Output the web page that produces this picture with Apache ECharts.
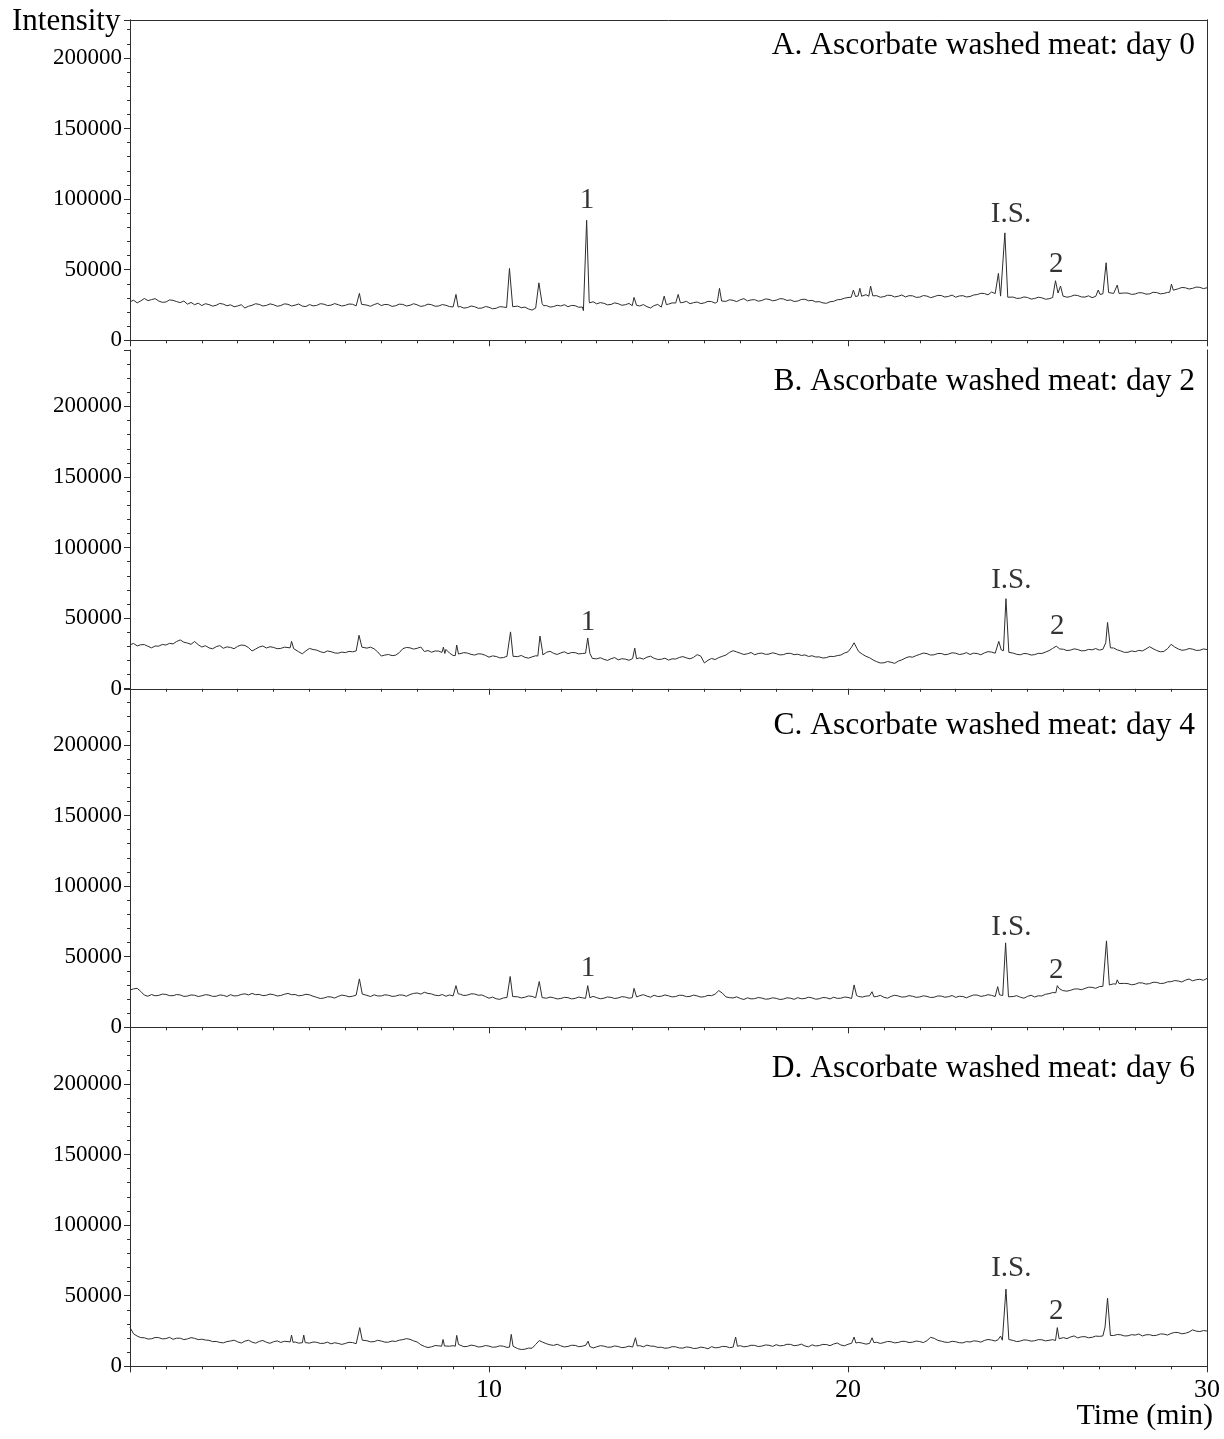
<!DOCTYPE html>
<html>
<head>
<meta charset="utf-8">
<title>Ascorbate washed meat chromatograms</title>
<script src="https://cdn.jsdelivr.net/npm/echarts@6/dist/echarts.min.js"></script>
<style>
  html, body { margin: 0; padding: 0; background: #fff; }
  #chart { width: 1224px; height: 1439px; }
</style>
</head>
<body>
<div id="chart"></div>
<script>
// baseline read every 0.1 min, 0 .. 30 min (20 values per row = 2 min)
const baseStep = 0.1;

const baseA = [
  27300, 28400, 26500, 27900, 29600, 28100, 28800, 29500, 27800, 26900, 27100, 28600, 28300, 27400, 26700, 27800, 25600, 26800, 25200, 26300,
  24600, 25900, 25300, 24200, 24800, 26100, 25600, 24500, 25100, 23800, 24300, 25200, 22900, 24100, 24800, 25900, 25400, 24300, 24700, 25800,
  25200, 24100, 24600, 25800, 25500, 24300, 24900, 25700, 24200, 23900, 25300, 24400, 24700, 25900, 25600, 24600, 24900, 26000, 25200, 24300,
  24800, 25700, 25500, 24400, 25000, 26000, 24900, 24100, 25300, 26200, 24600, 25400, 25200, 24000, 24500, 25600, 25400, 24300, 24800, 25900,
  25100, 24000, 24500, 25600, 25200, 24100, 24300, 25300, 24800, 23900, 23600, 24700, 23900, 22800, 23200, 24300, 23800, 22700, 22800, 23900,
  23400, 22300, 22700, 23800, 23600, 22600, 23900, 24900, 24200, 23100, 23500, 22200, 21400, 22800, 24000, 25000, 24600, 23500, 23900, 24800,
  24300, 25200, 23800, 24700, 24500, 23400, 23600, 24600, 26500, 27300, 25800, 26700, 26200, 25100, 25400, 26500, 25900, 24800, 25200, 26100,
  25000, 24000, 24300, 25300, 23800, 22900, 24600, 25400, 23500, 24400, 25600, 26500, 26400, 25300, 26800, 27600, 25900, 26700, 27100, 26000,
  26500, 27600, 27400, 26300, 26800, 27900, 27600, 28700, 28300, 27400, 28700, 29500, 27900, 28600, 28800, 27700, 28200, 29300, 29000, 28000,
  28400, 29500, 29300, 28200, 28600, 27500, 27800, 28900, 29100, 28000, 28300, 27200, 27400, 26500, 26200, 27300, 27600, 28700, 28900, 29800,
  30300, 31200, 31000, 30400, 31500, 32300, 30800, 31700, 31600, 30500, 30900, 31900, 31800, 30700, 31200, 32100, 30700, 31600, 31500, 30400,
  30600, 31700, 31300, 30200, 30900, 31800, 31700, 30600, 31100, 32000, 30500, 31400, 31600, 30700, 31000, 32100, 32400, 33300, 33100, 32200,
  34200, 33100, 33500, 33300, 33300, 31500, 30600, 29700, 29800, 30700, 30300, 29200, 29600, 30500, 30100, 29100, 29400, 30300, 30200, 31200,
  31400, 30500, 31000, 32000, 31700, 30700, 30600, 31500, 30200, 31100, 31800, 32900, 32800, 33200, 33200, 32300, 32600, 33500, 33400, 32500,
  32800, 33700, 33600, 32700, 32900, 34000, 33800, 32900, 33200, 33900, 34100, 36800, 36500, 37400, 37200, 36300, 36800, 37700, 37500, 36600,
  37200
];
const baseB = [
  31200, 32100, 30400, 31200, 31300, 30100, 29000, 30300, 30200, 31400, 31000, 32200, 31800, 33500, 34600, 33000, 32400, 31500, 33500, 31200,
  29600, 30500, 29000, 28300, 29800, 30600, 28700, 29700, 29300, 28400, 30100, 31000, 30700, 29200, 26800, 28200, 29600, 30300, 28900, 29800,
  29300, 28400, 28600, 29500, 29200, 30000, 28000, 26200, 24800, 26900, 28600, 27800, 27400, 26300, 25600, 26800, 26300, 25400, 25200, 26000,
  25600, 26500, 26200, 26800, 30000, 29200, 28800, 29500, 28300, 26100, 23200, 23900, 24300, 23500, 23800, 25600, 28400, 29300, 29000, 28100,
  28700, 29600, 26400, 27100, 25900, 26800, 26700, 25900, 27900, 25300, 23600, 24700, 24700, 25600, 25300, 24400, 23900, 24800, 24600, 23700,
  22400, 23300, 22900, 21900, 22100, 23000, 22500, 22000, 22800, 23600, 22300, 21700, 22600, 23400, 23000, 24000, 25800, 26600, 25100, 24300,
  25400, 26200, 24900, 25700, 25600, 24700, 25000, 25800, 24300, 22000, 21200, 22000, 20900, 20100, 21300, 22100, 20500, 21300, 21000, 20200,
  21400, 22300, 21900, 21000, 22400, 23100, 21600, 20800, 20900, 21700, 20300, 21200, 21100, 22200, 22800, 21900, 21200, 22300, 24200, 23100,
  18300, 20200, 21500, 20700, 22100, 23000, 23900, 25800, 27000, 26100, 25200, 24300, 24800, 25700, 24100, 25000, 25300, 24400, 24600, 25500,
  24900, 24000, 24200, 25100, 25100, 24200, 24500, 23600, 24000, 22900, 23400, 22500, 22600, 21800, 22100, 23000, 22800, 23500, 23900, 25300,
  26200, 27000, 30000, 26300, 24500, 23000, 22000, 20400, 19200, 18300, 18400, 19300, 18800, 18000, 19600, 20500, 21800, 22700, 22400, 23500,
  24400, 25300, 24900, 23900, 24100, 25000, 25000, 24100, 24600, 25500, 25200, 24300, 24700, 25600, 24300, 25200, 25000, 24100, 25400, 26300,
  26000, 25200, 30000, 28000, 30000, 26100, 25300, 24400, 24100, 25000, 24800, 23900, 24200, 25100, 25000, 26000, 27000, 28600, 30200, 28200,
  28000, 27100, 27400, 28300, 27800, 26900, 27000, 27900, 27600, 28500, 27400, 28000, 30000, 29500, 28900, 27600, 26800, 25800, 25900, 26800,
  26300, 27200, 26800, 28200, 29800, 28400, 27100, 26200, 26500, 28400, 31500, 29600, 28200, 27300, 27600, 28500, 28100, 27200, 27300, 28200,
  27800
];
const baseC = [
  26400, 27200, 27600, 25400, 22800, 22000, 23200, 22300, 22600, 23500, 23300, 22400, 22400, 23200, 22900, 21900, 22100, 22900, 22700, 21800,
  22300, 23100, 22800, 21900, 22000, 22900, 22600, 21800, 23100, 22200, 22400, 23300, 23700, 22900, 24000, 23100, 23300, 22400, 22700, 23500,
  23100, 22200, 22500, 23400, 24000, 23100, 23200, 22300, 22600, 23400, 23000, 22000, 21200, 20400, 20700, 21600, 21500, 20700, 21900, 22800,
  22400, 21600, 22000, 22800, 22500, 22700, 22600, 21800, 23000, 22200, 22200, 23000, 22700, 21900, 22100, 22900, 22800, 22000, 23200, 24000,
  24300, 23500, 24800, 24000, 23600, 22700, 22400, 23200, 22000, 22900, 22200, 22800, 23400, 22500, 22800, 23700, 23600, 22700, 22900, 21800,
  20600, 21400, 20200, 19800, 20800, 21100, 21000, 22200, 21600, 20800, 21300, 22200, 21900, 20900, 21500, 20200, 20600, 21400, 20900, 20100,
  20400, 21200, 21000, 20100, 20500, 21400, 20900, 21300, 21300, 21900, 21000, 20200, 20600, 21500, 21200, 20400, 20800, 21700, 21400, 20600,
  21000, 21900, 22400, 23100, 22100, 21300, 22700, 21800, 22000, 22900, 22300, 21500, 21800, 22700, 22600, 21700, 21900, 22800, 22200, 21400,
  21700, 22600, 22400, 23500, 26000, 24200, 21500, 21000, 20800, 21600, 20400, 19700, 20900, 20100, 20300, 21100, 20700, 19900, 20100, 20900,
  20500, 19700, 20000, 20900, 20600, 19800, 21000, 20200, 20400, 21300, 20800, 19900, 20200, 21100, 20900, 20100, 21300, 20500, 20600, 21400,
  21200, 20400, 21000, 21800, 21400, 22100, 22300, 21400, 21800, 22600, 21300, 20600, 21900, 22700, 22200, 21400, 21600, 22400, 22000, 21200,
  21500, 22300, 21900, 21100, 21300, 22200, 22100, 21300, 21700, 22500, 21200, 22000, 21800, 20900, 22000, 22900, 22800, 21900, 22300, 23100,
  22600, 21800, 22000, 22000, 22000, 21400, 21800, 22400, 21300, 20600, 21900, 22700, 21500, 22300, 22200, 23400, 23800, 24600, 26000, 26000,
  26500, 25600, 26200, 27100, 27200, 26600, 27500, 28400, 28300, 27600, 28800, 29000, 30000, 31200, 30800, 31600, 30200, 31100, 30900, 30100,
  30500, 31500, 31400, 30600, 30900, 31900, 31800, 31000, 31200, 32200, 32300, 33100, 32800, 32100, 33400, 34200, 32900, 33700, 34000, 33300,
  34600
];
const baseD = [
  27500, 23000, 21400, 20300, 20200, 19300, 19500, 20400, 20300, 19400, 19600, 20500, 19100, 19900, 19900, 18900, 19400, 20300, 19800, 18900,
  19200, 18600, 18400, 17500, 17600, 16900, 16600, 17500, 17900, 18500, 17300, 16500, 17800, 18500, 17100, 16400, 17600, 18300, 17000, 16300,
  17400, 18000, 16900, 17700, 17500, 17900, 17200, 16400, 16700, 17300, 16400, 17200, 17000, 16200, 16300, 17100, 15900, 16700, 16200, 15500,
  16200, 17000, 16800, 16000, 17000, 18900, 18100, 17300, 17500, 18400, 17900, 17100, 17100, 17900, 17600, 18500, 18900, 19600, 19100, 18000,
  17200, 15300, 14100, 13300, 13800, 14700, 14500, 14900, 15000, 14200, 14600, 14800, 14800, 13900, 14100, 15000, 14600, 13700, 13900, 14700,
  14300, 13500, 13700, 14500, 14200, 13400, 14000, 13200, 12500, 11900, 12100, 12900, 12800, 15500, 18200, 17000, 16000, 15200, 14800, 15600,
  14500, 13700, 14100, 14900, 14800, 13900, 14200, 15000, 14000, 13000, 13800, 14600, 14300, 13500, 13600, 14400, 14000, 13200, 13500, 14300,
  13600, 14200, 14600, 13800, 15000, 14300, 14200, 13400, 13500, 12800, 13000, 13900, 13800, 13000, 12900, 13700, 13400, 12600, 12800, 13600,
  13200, 12400, 13900, 13100, 13300, 14100, 14000, 13200, 13600, 14000, 14600, 13800, 14100, 14900, 14800, 14000, 14300, 15100, 14900, 14100,
  15300, 14500, 14700, 15600, 15500, 14600, 14900, 15700, 14400, 13800, 15200, 14400, 14700, 15500, 15400, 14600, 15800, 16500, 15100, 14500,
  15600, 16300, 16000, 16900, 16400, 15700, 16200, 17200, 17000, 16200, 16800, 17600, 17400, 16600, 16900, 17700, 17600, 16800, 17100, 17900,
  17500, 16800, 18200, 20500, 19800, 18400, 17800, 17100, 16900, 17700, 17400, 16700, 16600, 17500, 17200, 18000, 17800, 17100, 18300, 19000,
  18600, 17900, 18900, 18000, 18400, 18900, 18300, 17500, 17900, 18700, 18500, 17800, 18100, 18900, 18800, 18000, 18400, 18900, 18600, 19600,
  20300, 19600, 20800, 21500, 20100, 20900, 21000, 20200, 20500, 21400, 21200, 21500, 21500, 21000, 21800, 22500, 22300, 21500, 21600, 22400,
  22100, 22900, 21500, 22300, 22400, 21700, 22000, 22900, 22800, 22100, 23300, 24000, 23900, 23000, 23400, 24300, 25800, 24900, 24600, 25300,
  25000
];

// peaks: [time (min), intensity] points
const peaksA = [
  [[6.33, 25000], [6.39, 33200], [6.45, 25500]],
  [[9.02, 23800], [9.08, 32500], [9.14, 23600]],
  [[10.49, 23200], [10.57, 50900], [10.66, 23800]],
  [[11.31, 22400], [11.39, 40700], [11.48, 26000], [11.52, 24500]],
  [[12.63, 21000], [12.72, 85000], [12.79, 28000]],
  [[13.99, 24500], [14.04, 30400], [14.11, 24800]],
  [[14.83, 24000], [14.88, 31300], [14.94, 25300]],
  [[15.22, 26000], [15.27, 32500], [15.33, 26600]],
  [[16.36, 27200], [16.42, 36800], [16.48, 27800]],
  [[20.09, 30500], [20.15, 35600], [20.21, 31000]],
  [[20.28, 31400], [20.33, 36800], [20.38, 31200]],
  [[20.58, 31200], [20.63, 38400], [20.69, 31500]],
  [[24.13, 33500], [24.19, 47400], [24.25, 31300], [24.29, 31500], [24.37, 76100], [24.45, 30500]],
  [[25.72, 29500], [25.78, 42200], [25.85, 33500], [25.92, 38400], [25.99, 31300]],
  [[26.93, 31800], [26.97, 35600], [27.02, 32500]],
  [[27.12, 32800], [27.19, 54900], [27.26, 33800]],
  [[27.45, 33000], [27.5, 39100], [27.55, 33200]],
  [[28.96, 34000], [29.01, 39800], [29.06, 35500]]
];
const peaksB = [
  [[4.46, 29000], [4.5, 33600], [4.56, 28400]],
  [[6.31, 27000], [6.38, 37900], [6.46, 29500]],
  [[8.69, 25800], [8.73, 29500], [8.77, 25000]],
  [[9.06, 23500], [9.1, 31000], [9.15, 24600]],
  [[10.54, 22200], [10.6, 40300], [10.67, 23000]],
  [[11.36, 23200], [11.42, 37400], [11.49, 26500]],
  [[12.69, 25200], [12.75, 36000], [12.81, 25000], [12.88, 21500]],
  [[14.02, 21000], [14.06, 28800], [14.11, 21300]],
  [[20.05, 26500], [20.1, 29500], [20.17, 32600], [20.25, 28500]],
  [[24.12, 25800], [24.2, 33600], [24.27, 27500], [24.33, 27000], [24.4, 63800], [24.48, 25800]],
  [[27.13, 28000], [27.18, 32600], [27.23, 47000], [27.31, 29000]]
];
const peaksC = [
  [[6.32, 22000], [6.39, 34300], [6.47, 23500]],
  [[9.03, 22500], [9.08, 29500], [9.14, 23800]],
  [[10.53, 21000], [10.59, 36000], [10.66, 21800]],
  [[11.34, 21500], [11.4, 32400], [11.48, 21000]],
  [[12.69, 20500], [12.75, 29500], [12.81, 21000]],
  [[13.99, 21000], [14.04, 27600], [14.11, 21500]],
  [[20.11, 21200], [20.17, 30000], [20.24, 22500]],
  [[20.63, 21800], [20.67, 25200], [20.72, 21600]],
  [[24.12, 22800], [24.17, 28800], [24.22, 23000], [24.31, 22500], [24.39, 59800], [24.47, 21600]],
  [[25.79, 24500], [25.83, 29500], [25.88, 27500], [25.93, 28800], [25.98, 26000]],
  [[27.13, 29000], [27.2, 61200], [27.28, 30000]],
  [[27.46, 30500], [27.5, 33600], [27.55, 31000]]
];
const peaksD = [
  [[4.46, 17200], [4.5, 22100], [4.54, 17000]],
  [[4.81, 17100], [4.84, 22100], [4.88, 16800]],
  [[6.34, 16000], [6.4, 27400], [6.47, 18500]],
  [[8.68, 14200], [8.72, 19000], [8.76, 14400]],
  [[9.06, 14200], [9.1, 21900], [9.15, 15500]],
  [[10.57, 13600], [10.62, 22600], [10.67, 14200]],
  [[12.72, 14400], [12.76, 17800], [12.81, 14000]],
  [[14.03, 13800], [14.08, 20200], [14.13, 14400]],
  [[16.83, 13500], [16.87, 20700], [16.92, 14200]],
  [[20.13, 15800], [20.17, 20700], [20.22, 16500]],
  [[20.63, 17000], [20.67, 20200], [20.72, 16800]],
  [[24.18, 18800], [24.25, 21400], [24.3, 18500], [24.33, 18200], [24.4, 54700], [24.48, 19000]],
  [[25.78, 18300], [25.83, 27400], [25.88, 19500]],
  [[27.11, 21500], [27.16, 27800], [27.23, 48300], [27.31, 21800]]
];

// peak annotations: [time, intensity, text]
const labelsA = [[12.73, 99400, '1'], [24.54, 89000, 'I.S.'], [25.8, 54000, '2']];
const labelsB = [[12.76, 47000, '1'], [24.55, 77000, 'I.S.'], [25.83, 44000, '2']];
const labelsC = [[12.76, 42000, '1'], [24.55, 71000, 'I.S.'], [25.8, 40000, '2']];
const labelsD = [[24.55, 69000, 'I.S.'], [25.8, 39000, '2']];

const panelTitles = [
  'A. Ascorbate washed meat: day 0',
  'B. Ascorbate washed meat: day 2',
  'C. Ascorbate washed meat: day 4',
  'D. Ascorbate washed meat: day 6'
];
const panelMax = [227000, 240000, 240000, 240000];
const yTicks = [0, 50000, 100000, 150000, 200000];
const xTicks = [10, 20, 30];

const FONT = "'Times New Roman', 'Liberation Serif', serif";
const INK = '#2e2e2e';

function buildTrace(base, peaks) {
  var pts = [];
  base.forEach(function (v, i) {
    var t = +(i * baseStep).toFixed(2);
    var inside = peaks.some(function (p) {
      return t > p[0][0] && t < p[p.length - 1][0];
    });
    if (!inside) pts.push([t, v]);
  });
  peaks.forEach(function (p) {
    p.forEach(function (q) { pts.push(q); });
  });
  pts.sort(function (a, b) { return a[0] - b[0]; });
  return pts;
}

const traces = [
  buildTrace(baseA, peaksA),
  buildTrace(baseB, peaksB),
  buildTrace(baseC, peaksC),
  buildTrace(baseD, peaksD)
];
const labels = [labelsA, labelsB, labelsC, labelsD];

// pixel layout of the four stacked panels
const zeroY = [340.3, 688.8, 1027.3, 1366.3];
const titleY = [46, 382, 726, 1069];
const pxPer50k = 70.6;

var grid = [], xAxis = [], yAxis = [], series = [], graphic = [];

for (let i = 0; i < 4; i++) {
  var h = panelMax[i] / 50000 * pxPer50k;
  grid.push({ left: 130, right: 17, top: zeroY[i] - h, height: h, containLabel: false, outerBoundsMode: 'none' });

  // minor x ticks every minute
  xAxis.push({
    gridIndex: i, type: 'value', min: 0, max: 30, interval: 1, position: 'bottom',
    axisLine: { show: true, onZero: false, lineStyle: { color: INK, width: 1 } },
    axisTick: { show: true, length: 3, lineStyle: { color: INK } },
    axisLabel: { show: false }, splitLine: { show: false }
  });
  // major x ticks every 10 min
  xAxis.push({
    gridIndex: i, type: 'value', min: 0, max: 30, interval: 10, position: 'bottom',
    axisLine: { show: false, onZero: false },
    axisTick: { show: true, length: 6, lineStyle: { color: INK } },
    axisLabel: {
      show: i === 3, margin: 11, fontSize: 26, fontFamily: FONT, color: '#000',
      formatter: function (v) { return xTicks.indexOf(v) >= 0 ? String(v) : ''; }
    },
    splitLine: { show: false }
  });
  // top frame line
  xAxis.push({
    gridIndex: i, type: 'value', min: 0, max: 30, position: 'top',
    axisLine: { show: i === 0, onZero: false, lineStyle: { color: INK, width: 1 } },
    axisTick: { show: false }, axisLabel: { show: false }, splitLine: { show: false }
  });

  yAxis.push({
    gridIndex: i, type: 'value', min: 0, max: panelMax[i], interval: 50000, position: 'left',
    axisLine: { show: true, onZero: false, lineStyle: { color: INK, width: 1 } },
    axisTick: { show: true, length: 6, lineStyle: { color: INK } },
    axisLabel: {
      margin: 8, fontSize: 23, fontFamily: FONT, color: '#000',
      formatter: function (v) { return yTicks.indexOf(v) >= 0 ? String(v) : ''; }
    },
    splitLine: { show: false }
  });
  yAxis.push({
    gridIndex: i, type: 'value', min: 0, max: panelMax[i], interval: 10000, position: 'left',
    axisLine: { show: false, onZero: false },
    axisTick: { show: true, length: 3, lineStyle: { color: INK } },
    axisLabel: { show: false }, splitLine: { show: false }
  });
  yAxis.push({
    gridIndex: i, type: 'value', min: 0, max: panelMax[i], position: 'right',
    axisLine: { show: true, onZero: false, lineStyle: { color: INK, width: 1 } },
    axisTick: { show: false }, axisLabel: { show: false }, splitLine: { show: false }
  });

  series.push({
    type: 'line', xAxisIndex: i * 3, yAxisIndex: i * 3,
    data: traces[i], showSymbol: false, symbol: 'none',
    lineStyle: { color: INK, width: 1 }, silent: true, z: 3
  });
  series.push({
    type: 'scatter', xAxisIndex: i * 3, yAxisIndex: i * 3,
    data: labels[i], symbolSize: 0, silent: true,
    label: {
      show: true, position: 'inside', fontSize: 29, fontFamily: FONT, color: '#000',
      formatter: function (p) { return p.data[2]; }
    }
  });

  graphic.push({
    type: 'text', x: 1195, y: titleY[i],
    style: {
      text: panelTitles[i], font: '31.5px ' + FONT, fill: '#000',
      textAlign: 'right', textVerticalAlign: 'middle', align: 'right', verticalAlign: 'middle'
    }
  });
}

graphic.push({
  type: 'text', x: 12, y: 22,
  style: { text: 'Intensity', font: '31px ' + FONT, fill: '#000', textAlign: 'left', textVerticalAlign: 'middle', align: 'left', verticalAlign: 'middle' }
});
graphic.push({
  type: 'text', x: 1213, y: 1416,
  style: { text: 'Time (min)', font: '30px ' + FONT, fill: '#000', textAlign: 'right', textVerticalAlign: 'middle', align: 'right', verticalAlign: 'middle' }
});

var chart = echarts.init(document.getElementById('chart'), null, { renderer: 'canvas' });
chart.setOption({
  animation: false,
  backgroundColor: '#fff',
  grid: grid,
  xAxis: xAxis,
  yAxis: yAxis,
  series: series,
  graphic: graphic
});
</script>
</body>
</html>
